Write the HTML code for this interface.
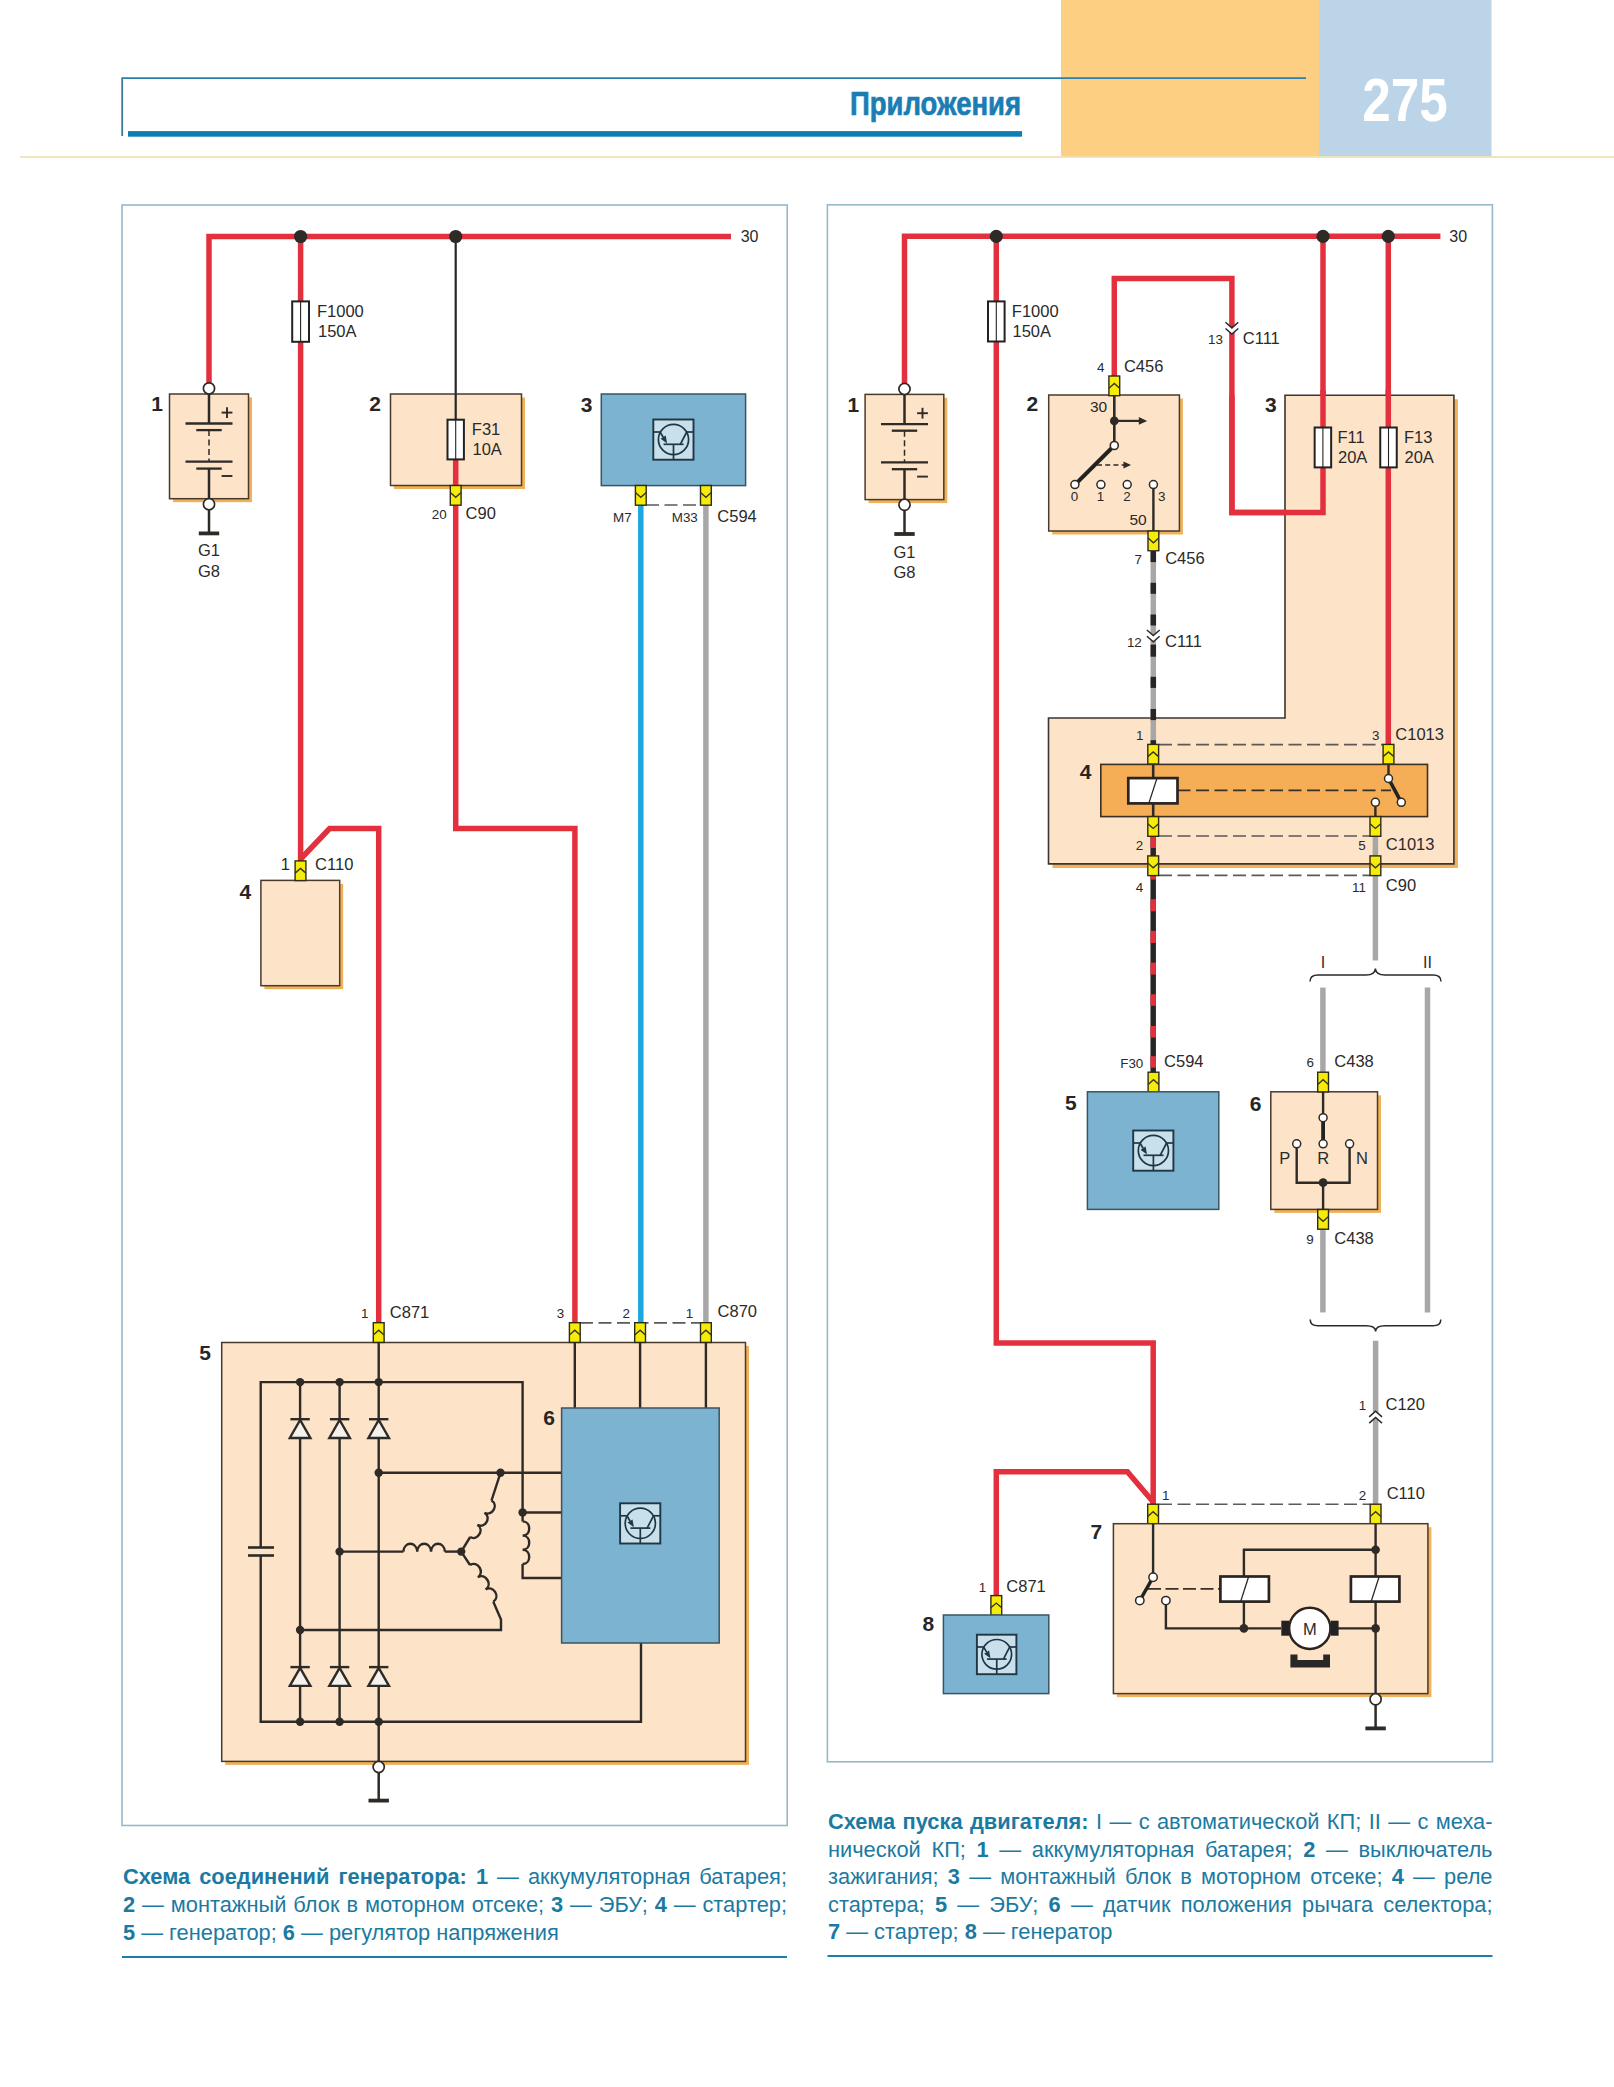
<!DOCTYPE html>
<html><head><meta charset="utf-8"><title>275</title>
<style>html,body{margin:0;padding:0;background:#fff;width:1614px;height:2087px;overflow:hidden}
text{font-family:"Liberation Sans",sans-serif}</style></head>
<body>
<svg width="1614" height="2087" viewBox="0 0 1614 2087" font-family="Liberation Sans, sans-serif" style="display:block">
<rect x="0" y="0" width="1614" height="2087" fill="#ffffff" stroke="none" stroke-width="0" />
<rect x="1061" y="0" width="258" height="156.5" fill="#fccf82" stroke="none" stroke-width="0" />
<rect x="1319" y="0" width="172.5" height="156.5" fill="#bcd4e8" stroke="none" stroke-width="0" />
<line x1="20" y1="157" x2="1614" y2="157" stroke="#efdca2" stroke-width="1.6" />
<line x1="122" y1="78.2" x2="1306" y2="78.2" stroke="#2c7fa5" stroke-width="1.7" />
<line x1="122.2" y1="77.5" x2="122.2" y2="136" stroke="#3f7896" stroke-width="1.8" />
<rect x="128" y="131.1" width="894" height="5.6" fill="#0f7fb1" stroke="none" stroke-width="0" />
<text x="850" y="115.3" font-size="34" font-weight="bold" fill="#1a7db3" stroke="#1a7db3" stroke-width="0.7" textLength="171" lengthAdjust="spacingAndGlyphs">Приложения</text>
<text x="1362.3" y="120.6" font-size="60.5" font-weight="bold" fill="#ffffff" textLength="85.5" lengthAdjust="spacingAndGlyphs">275</text>
<rect x="122" y="205" width="665.2" height="1620.5" fill="none" stroke="#95b8ca" stroke-width="1.6" />
<path d="M209,383 V236.5 H731" stroke="#e3303f" stroke-width="5.5" fill="none" stroke-linejoin="miter"/>
<line x1="300.6" y1="236.5" x2="300.6" y2="862" stroke="#e3303f" stroke-width="5.5" />
<path d="M300.6,859 L329.6,828.5 H378.7 V1324" stroke="#e3303f" stroke-width="5.5" fill="none" stroke-linejoin="miter"/>
<path d="M455.7,459 V828.5 H574.9 V1324" stroke="#e3303f" stroke-width="5.5" fill="none" stroke-linejoin="miter"/>
<line x1="640.8" y1="504" x2="640.8" y2="1324" stroke="#1ea7df" stroke-width="5.5" />
<line x1="705.9" y1="504" x2="705.9" y2="1324" stroke="#a7a7a7" stroke-width="5.5" />
<line x1="455.7" y1="236.5" x2="455.7" y2="420" stroke="#262626" stroke-width="2.2" />
<text x="740.7" y="242.4" font-size="16" text-anchor="start" font-weight="normal" fill="#2a2a2a" >30</text>
<circle cx="300.6" cy="236.5" r="6.6" fill="#2e2a26" stroke="none" stroke-width="0"/>
<circle cx="455.7" cy="236.5" r="6.6" fill="#2e2a26" stroke="none" stroke-width="0"/>
<rect x="292.2" y="301.4" width="16.8" height="40.4" fill="#ffffff" stroke="#222222" stroke-width="2" />
<line x1="300.6" y1="301.4" x2="300.6" y2="341.8" stroke="#222222" stroke-width="1.1" />
<text x="317" y="317.3" font-size="16.5" text-anchor="start" font-weight="normal" fill="#2a2a2a" >F1000</text>
<text x="318" y="337" font-size="16.5" text-anchor="start" font-weight="normal" fill="#2a2a2a" >150A</text>
<rect x="173" y="397.5" width="79" height="104.7" fill="#efb25a" stroke="none" stroke-width="0" />
<rect x="169.5" y="394" width="79" height="104.7" fill="#fde3c8" stroke="#4a3a2c" stroke-width="1.5" />
<line x1="209" y1="388.4" x2="209" y2="423.5" stroke="#2e2a26" stroke-width="2.5" />
<line x1="185.5" y1="423.5" x2="232.5" y2="423.5" stroke="#2e2a26" stroke-width="2.3" />
<line x1="196.3" y1="430.1" x2="221.7" y2="430.1" stroke="#2e2a26" stroke-width="2.3" />
<line x1="209" y1="430.1" x2="209" y2="461.7" stroke="#2e2a26" stroke-width="1.5" stroke-dasharray="6,3.5"/>
<line x1="185.5" y1="461.7" x2="232.5" y2="461.7" stroke="#2e2a26" stroke-width="2.3" />
<line x1="196.3" y1="468.6" x2="221.7" y2="468.6" stroke="#2e2a26" stroke-width="2.3" />
<line x1="209" y1="468.6" x2="209" y2="504.2" stroke="#2e2a26" stroke-width="2.5" />
<line x1="221.6" y1="412.6" x2="232.4" y2="412.6" stroke="#2e2a26" stroke-width="1.9" />
<line x1="227" y1="407.2" x2="227" y2="418" stroke="#2e2a26" stroke-width="1.9" />
<line x1="221.6" y1="476" x2="232.4" y2="476" stroke="#2e2a26" stroke-width="1.9" />
<circle cx="209" cy="388.4" r="5.6" fill="#ffffff" stroke="#2e2a26" stroke-width="1.7"/>
<circle cx="209" cy="504.2" r="5.6" fill="#ffffff" stroke="#2e2a26" stroke-width="1.7"/>
<line x1="209" y1="509.8" x2="209" y2="533.4" stroke="#2e2a26" stroke-width="2.5" />
<rect x="198.8" y="531.5" width="20.4" height="3.8" fill="#2e2a26" stroke="none" stroke-width="0" />
<text x="209" y="556.3" font-size="16.5" text-anchor="middle" font-weight="normal" fill="#2a2a2a" >G1</text>
<text x="209" y="576.8" font-size="16.5" text-anchor="middle" font-weight="normal" fill="#2a2a2a" >G8</text>
<text x="157.05" y="411.3" font-size="21" text-anchor="middle" font-weight="bold" fill="#262626" >1</text>
<rect x="394" y="397.5" width="131" height="91.5" fill="#efb25a" stroke="none" stroke-width="0" />
<rect x="390.5" y="394" width="131" height="91.5" fill="#fde3c8" stroke="#4a3a2c" stroke-width="1.5" />
<line x1="455.7" y1="394" x2="455.7" y2="420" stroke="#262626" stroke-width="2.2" />
<line x1="455.7" y1="459" x2="455.7" y2="486" stroke="#e3303f" stroke-width="5.5" />
<rect x="447.5" y="419.7" width="16.4" height="39.7" fill="#ffffff" stroke="#222222" stroke-width="2" />
<line x1="455.7" y1="419.7" x2="455.7" y2="459.4" stroke="#222222" stroke-width="1.1" />
<text x="471.8" y="435.4" font-size="16.5" text-anchor="start" font-weight="normal" fill="#2a2a2a" >F31</text>
<text x="472.5" y="455.2" font-size="16.5" text-anchor="start" font-weight="normal" fill="#2a2a2a" >10A</text>
<text x="375.15" y="411.3" font-size="21" text-anchor="middle" font-weight="bold" fill="#262626" >2</text>
<rect x="450.3" y="485.5" width="10.8" height="19.7" fill="#f5ec0a" stroke="#2e2b14" stroke-width="1.4" />
<path d="M450.3,492.59 L455.7,497.32 L461.1,492.59" stroke="#3a3520" stroke-width="1.4" fill="none" />
<text x="446.6" y="519.2" font-size="13.4" text-anchor="end" font-weight="normal" fill="#2a2a2a" >20</text>
<text x="465.6" y="519.2" font-size="16.5" text-anchor="start" font-weight="normal" fill="#2a2a2a" >C90</text>
<rect x="601.3" y="394" width="144.3" height="91.6" fill="#7bb3d0" stroke="#3a5462" stroke-width="1.5" />
<rect x="653.3" y="419.5" width="40.2" height="40.2" fill="#c8e0ec" stroke="#1f3643" stroke-width="1.9" />
<circle cx="673.5" cy="439.5" r="15.1" fill="none" stroke="#1f3643" stroke-width="1.7"/>
<line x1="653.3" y1="432" x2="660.1" y2="432" stroke="#1f3643" stroke-width="1.7" />
<line x1="686.7" y1="432" x2="693.5" y2="432" stroke="#1f3643" stroke-width="1.7" />
<line x1="663.6" y1="444.3" x2="683.6" y2="444.3" stroke="#1f3643" stroke-width="1.7" />
<line x1="673.5" y1="444.3" x2="673.5" y2="459.7" stroke="#1f3643" stroke-width="1.7" />
<line x1="660.1" y1="432" x2="663.2" y2="437.2" stroke="#1f3643" stroke-width="1.7" />
<path d="M667.1,443.4 L660.7,438.8 L665.7,435.6 Z" fill="#1f3643"/>
<line x1="686.7" y1="432" x2="680.3" y2="444.3" stroke="#1f3643" stroke-width="1.7" />
<text x="586.5" y="411.5" font-size="21" text-anchor="middle" font-weight="bold" fill="#262626" >3</text>
<line x1="646" y1="505" x2="700" y2="505" stroke="#5a5a5a" stroke-width="1.6" stroke-dasharray="13,5.5"/>
<rect x="635.4" y="485.5" width="10.8" height="19.7" fill="#f5ec0a" stroke="#2e2b14" stroke-width="1.4" />
<path d="M635.4,492.59 L640.8,497.32 L646.2,492.59" stroke="#3a3520" stroke-width="1.4" fill="none" />
<rect x="700.5" y="485.5" width="10.8" height="19.7" fill="#f5ec0a" stroke="#2e2b14" stroke-width="1.4" />
<path d="M700.5,492.59 L705.9,497.32 L711.3,492.59" stroke="#3a3520" stroke-width="1.4" fill="none" />
<text x="631.6" y="522.2" font-size="13.4" text-anchor="end" font-weight="normal" fill="#2a2a2a" >M7</text>
<text x="697.8" y="522.2" font-size="13.4" text-anchor="end" font-weight="normal" fill="#2a2a2a" >M33</text>
<text x="717.3" y="521.6" font-size="16.5" text-anchor="start" font-weight="normal" fill="#2a2a2a" >C594</text>
<rect x="264.4" y="883.9" width="78.8" height="105.3" fill="#efb25a" stroke="none" stroke-width="0" />
<rect x="260.9" y="880.4" width="78.8" height="105.3" fill="#fde3c8" stroke="#4a3a2c" stroke-width="1.5" />
<text x="245.4" y="899" font-size="21" text-anchor="middle" font-weight="bold" fill="#262626" >4</text>
<rect x="295.1" y="860.9" width="10.8" height="19.7" fill="#f5ec0a" stroke="#2e2b14" stroke-width="1.4" />
<path d="M295.1,873.11 L300.5,868.39 L305.9,873.11" stroke="#3a3520" stroke-width="1.4" fill="none" />
<text x="285.3" y="869.8" font-size="16.5" text-anchor="middle" font-weight="normal" fill="#2a2a2a" >1</text>
<text x="315.1" y="869.8" font-size="16.5" text-anchor="start" font-weight="normal" fill="#2a2a2a" >C110</text>
<rect x="225.2" y="1346" width="523.8" height="418.9" fill="#efb25a" stroke="none" stroke-width="0" />
<rect x="221.7" y="1342.5" width="523.8" height="418.9" fill="#fde3c8" stroke="#4a3a2c" stroke-width="1.5" />
<text x="205.05" y="1360.3" font-size="21" text-anchor="middle" font-weight="bold" fill="#262626" >5</text>
<line x1="580" y1="1322.9" x2="700" y2="1322.9" stroke="#5a5a5a" stroke-width="1.6" stroke-dasharray="13,5.5"/>
<rect x="373.3" y="1322.7" width="10.8" height="19.7" fill="#f5ec0a" stroke="#2e2b14" stroke-width="1.4" />
<path d="M373.3,1334.91 L378.7,1330.19 L384.1,1334.91" stroke="#3a3520" stroke-width="1.4" fill="none" />
<rect x="569.4" y="1322.7" width="10.8" height="19.7" fill="#f5ec0a" stroke="#2e2b14" stroke-width="1.4" />
<path d="M569.4,1334.91 L574.8,1330.19 L580.2,1334.91" stroke="#3a3520" stroke-width="1.4" fill="none" />
<rect x="634.7" y="1322.7" width="10.8" height="19.7" fill="#f5ec0a" stroke="#2e2b14" stroke-width="1.4" />
<path d="M634.7,1334.91 L640.1,1330.19 L645.5,1334.91" stroke="#3a3520" stroke-width="1.4" fill="none" />
<rect x="700.5" y="1322.7" width="10.8" height="19.7" fill="#f5ec0a" stroke="#2e2b14" stroke-width="1.4" />
<path d="M700.5,1334.91 L705.9,1330.19 L711.3,1334.91" stroke="#3a3520" stroke-width="1.4" fill="none" />
<text x="364.8" y="1317.8" font-size="13.4" text-anchor="middle" font-weight="normal" fill="#2a2a2a" >1</text>
<text x="389.8" y="1317.8" font-size="16.5" text-anchor="start" font-weight="normal" fill="#2a2a2a" >C871</text>
<text x="560.5" y="1317.6" font-size="13.4" text-anchor="middle" font-weight="normal" fill="#2a2a2a" >3</text>
<text x="626.2" y="1317.6" font-size="13.4" text-anchor="middle" font-weight="normal" fill="#2a2a2a" >2</text>
<text x="689.6" y="1317.6" font-size="13.4" text-anchor="middle" font-weight="normal" fill="#2a2a2a" >1</text>
<text x="717.6" y="1317.2" font-size="16.5" text-anchor="start" font-weight="normal" fill="#2a2a2a" >C870</text>
<line x1="574.8" y1="1342.5" x2="574.8" y2="1408" stroke="#2e2a26" stroke-width="2.4" />
<line x1="640.1" y1="1342.5" x2="640.1" y2="1408" stroke="#2e2a26" stroke-width="2.4" />
<line x1="705.9" y1="1342.5" x2="705.9" y2="1408" stroke="#2e2a26" stroke-width="2.4" />
<path d="M260.7,1547.5 V1382.1 H522.6 V1512.5" stroke="#2e2a26" stroke-width="2.4" fill="none" stroke-linejoin="miter"/>
<path d="M260.7,1555.5 V1721.8 H641 V1643" stroke="#2e2a26" stroke-width="2.4" fill="none" stroke-linejoin="miter"/>
<line x1="248" y1="1547.5" x2="274" y2="1547.5" stroke="#2e2a26" stroke-width="2.6" />
<line x1="248" y1="1555.5" x2="274" y2="1555.5" stroke="#2e2a26" stroke-width="2.6" />
<line x1="300.1" y1="1382.1" x2="300.1" y2="1721.8" stroke="#2e2a26" stroke-width="2.4" />
<line x1="290.4" y1="1419.2" x2="309.8" y2="1419.2" stroke="#2e2a26" stroke-width="2.4" />
<path d="M300.1,1420 L289.8,1438 L310.4,1438 Z" fill="#f4f1ee" stroke="#2e2a26" stroke-width="2.4" stroke-linejoin="miter"/>
<line x1="290.4" y1="1667.1" x2="309.8" y2="1667.1" stroke="#2e2a26" stroke-width="2.4" />
<path d="M300.1,1667.9 L289.8,1685.9 L310.4,1685.9 Z" fill="#f4f1ee" stroke="#2e2a26" stroke-width="2.4" stroke-linejoin="miter"/>
<line x1="339.6" y1="1382.1" x2="339.6" y2="1721.8" stroke="#2e2a26" stroke-width="2.4" />
<line x1="329.9" y1="1419.2" x2="349.3" y2="1419.2" stroke="#2e2a26" stroke-width="2.4" />
<path d="M339.6,1420 L329.3,1438 L349.9,1438 Z" fill="#f4f1ee" stroke="#2e2a26" stroke-width="2.4" stroke-linejoin="miter"/>
<line x1="329.9" y1="1667.1" x2="349.3" y2="1667.1" stroke="#2e2a26" stroke-width="2.4" />
<path d="M339.6,1667.9 L329.3,1685.9 L349.9,1685.9 Z" fill="#f4f1ee" stroke="#2e2a26" stroke-width="2.4" stroke-linejoin="miter"/>
<line x1="378.7" y1="1382.1" x2="378.7" y2="1721.8" stroke="#2e2a26" stroke-width="2.4" />
<line x1="369" y1="1419.2" x2="388.4" y2="1419.2" stroke="#2e2a26" stroke-width="2.4" />
<path d="M378.7,1420 L368.4,1438 L389,1438 Z" fill="#f4f1ee" stroke="#2e2a26" stroke-width="2.4" stroke-linejoin="miter"/>
<line x1="369" y1="1667.1" x2="388.4" y2="1667.1" stroke="#2e2a26" stroke-width="2.4" />
<path d="M378.7,1667.9 L368.4,1685.9 L389,1685.9 Z" fill="#f4f1ee" stroke="#2e2a26" stroke-width="2.4" stroke-linejoin="miter"/>
<line x1="378.7" y1="1342.5" x2="378.7" y2="1382.1" stroke="#2e2a26" stroke-width="2.4" />
<line x1="378.7" y1="1721.8" x2="378.7" y2="1761.5" stroke="#2e2a26" stroke-width="2.4" />
<circle cx="378.7" cy="1767" r="5.6" fill="#ffffff" stroke="#2e2a26" stroke-width="1.7"/>
<line x1="378.7" y1="1772.5" x2="378.7" y2="1800.6" stroke="#2e2a26" stroke-width="2.5" />
<rect x="368.5" y="1798.7" width="20.4" height="3.8" fill="#2e2a26" stroke="none" stroke-width="0" />
<line x1="378.7" y1="1472.8" x2="561.6" y2="1472.8" stroke="#2e2a26" stroke-width="2.4" />
<line x1="339.6" y1="1551.6" x2="403.4" y2="1551.6" stroke="#2e2a26" stroke-width="2.4" />
<path d="M403.4,1551.6 C404.09,1541.22 416.54,1541.22 417.23,1551.6 C417.92,1541.22 430.37,1541.22 431.07,1551.6 C431.76,1541.22 444.21,1541.22 444.9,1551.6" stroke="#2e2a26" stroke-width="2.4" fill="none" />
<line x1="444.9" y1="1551.6" x2="461.2" y2="1551.6" stroke="#2e2a26" stroke-width="2.4" />
<line x1="500.5" y1="1472.8" x2="491.5" y2="1500.5" stroke="#2e2a26" stroke-width="2.4" />
<path d="M491.5,1500.5 C499.04,1504.9 491.94,1517.07 484.4,1512.67 C491.94,1517.07 484.84,1529.24 477.3,1524.83 C484.84,1529.24 477.74,1541.4 470.2,1537" stroke="#2e2a26" stroke-width="2.4" fill="none" />
<line x1="470.2" y1="1537" x2="461.2" y2="1551.6" stroke="#2e2a26" stroke-width="2.4" />
<line x1="461.2" y1="1551.6" x2="470" y2="1565" stroke="#2e2a26" stroke-width="2.4" />
<path d="M470,1565 C477.58,1560.18 485.35,1572.42 477.77,1577.23 C485.35,1572.42 493.12,1584.65 485.53,1589.47 C493.12,1584.65 500.88,1596.88 493.3,1601.7" stroke="#2e2a26" stroke-width="2.4" fill="none" />
<path d="M493.3,1601.7 L501,1619.6 V1630 H300.1" stroke="#2e2a26" stroke-width="2.4" fill="none" stroke-linejoin="miter"/>
<line x1="522.6" y1="1512.5" x2="561.6" y2="1512.5" stroke="#2e2a26" stroke-width="2.4" />
<line x1="522.6" y1="1512.5" x2="522.6" y2="1521.4" stroke="#2e2a26" stroke-width="2.4" />
<path d="M522.6,1521.4 C531.4,1521.4 531.4,1535.6 522.6,1535.6 C531.4,1535.6 531.4,1549.8 522.6,1549.8 C531.4,1549.8 531.4,1564 522.6,1564" stroke="#2e2a26" stroke-width="2.4" fill="none" />
<path d="M522.6,1564 V1578 H561.6" stroke="#2e2a26" stroke-width="2.4" fill="none" stroke-linejoin="miter"/>
<circle cx="300.1" cy="1382.1" r="4.2" fill="#2e2a26" stroke="none" stroke-width="0"/>
<circle cx="339.6" cy="1382.1" r="4.2" fill="#2e2a26" stroke="none" stroke-width="0"/>
<circle cx="378.7" cy="1382.1" r="4.2" fill="#2e2a26" stroke="none" stroke-width="0"/>
<circle cx="378.7" cy="1472.8" r="4.2" fill="#2e2a26" stroke="none" stroke-width="0"/>
<circle cx="339.6" cy="1551.6" r="4.2" fill="#2e2a26" stroke="none" stroke-width="0"/>
<circle cx="300.1" cy="1630" r="4.2" fill="#2e2a26" stroke="none" stroke-width="0"/>
<circle cx="300.1" cy="1721.8" r="4.2" fill="#2e2a26" stroke="none" stroke-width="0"/>
<circle cx="339.6" cy="1721.8" r="4.2" fill="#2e2a26" stroke="none" stroke-width="0"/>
<circle cx="378.7" cy="1721.8" r="4.2" fill="#2e2a26" stroke="none" stroke-width="0"/>
<circle cx="500.5" cy="1472.8" r="4.2" fill="#2e2a26" stroke="none" stroke-width="0"/>
<circle cx="461.2" cy="1551.6" r="4.2" fill="#2e2a26" stroke="none" stroke-width="0"/>
<circle cx="522.6" cy="1512.5" r="4.2" fill="#2e2a26" stroke="none" stroke-width="0"/>
<rect x="561.6" y="1408" width="157.6" height="235" fill="#7bb3d0" stroke="#3a5462" stroke-width="1.5" />
<rect x="620.1" y="1503.3" width="40.2" height="40.2" fill="#c8e0ec" stroke="#1f3643" stroke-width="1.9" />
<circle cx="640.3" cy="1523.3" r="15.1" fill="none" stroke="#1f3643" stroke-width="1.7"/>
<line x1="620.1" y1="1515.8" x2="626.9" y2="1515.8" stroke="#1f3643" stroke-width="1.7" />
<line x1="653.5" y1="1515.8" x2="660.3" y2="1515.8" stroke="#1f3643" stroke-width="1.7" />
<line x1="630.4" y1="1528.1" x2="650.4" y2="1528.1" stroke="#1f3643" stroke-width="1.7" />
<line x1="640.3" y1="1528.1" x2="640.3" y2="1543.5" stroke="#1f3643" stroke-width="1.7" />
<line x1="626.9" y1="1515.8" x2="630" y2="1521" stroke="#1f3643" stroke-width="1.7" />
<path d="M633.9,1527.2 L627.5,1522.6 L632.5,1519.4 Z" fill="#1f3643"/>
<line x1="653.5" y1="1515.8" x2="647.1" y2="1528.1" stroke="#1f3643" stroke-width="1.7" />
<text x="549" y="1425.4" font-size="21" text-anchor="middle" font-weight="bold" fill="#262626" >6</text>
<rect x="827.4" y="204.8" width="665" height="1557" fill="none" stroke="#95b8ca" stroke-width="1.6" />
<path d="M904.5,383 V236.3 H1440.4" stroke="#e3303f" stroke-width="5.5" fill="none" stroke-linejoin="miter"/>
<path d="M996.3,236.3 V1343 H1153.2 V1506" stroke="#e3303f" stroke-width="5.5" fill="none" stroke-linejoin="miter"/>
<path d="M996.3,1597 V1471.8 H1127.4 L1153.2,1502" stroke="#e3303f" stroke-width="5.5" fill="none" stroke-linejoin="miter"/>
<path d="M1114.3,378 V278.4 H1231.9 V512.6 H1323 V236.3" stroke="#e3303f" stroke-width="5.5" fill="none" stroke-linejoin="miter"/>
<line x1="1388.3" y1="236.3" x2="1388.3" y2="746" stroke="#e3303f" stroke-width="5.5" />
<text x="1449.3" y="242.2" font-size="16" text-anchor="start" font-weight="normal" fill="#2a2a2a" >30</text>
<circle cx="996.3" cy="236.3" r="6.6" fill="#2e2a26" stroke="none" stroke-width="0"/>
<circle cx="1323" cy="236.3" r="6.6" fill="#2e2a26" stroke="none" stroke-width="0"/>
<circle cx="1388.3" cy="236.3" r="6.6" fill="#2e2a26" stroke="none" stroke-width="0"/>
<rect x="988" y="301.4" width="16.6" height="40.1" fill="#ffffff" stroke="#222222" stroke-width="2" />
<line x1="996.3" y1="301.4" x2="996.3" y2="341.5" stroke="#222222" stroke-width="1.1" />
<text x="1011.8" y="317.2" font-size="16.5" text-anchor="start" font-weight="normal" fill="#2a2a2a" >F1000</text>
<text x="1012.5" y="336.8" font-size="16.5" text-anchor="start" font-weight="normal" fill="#2a2a2a" >150A</text>
<rect x="868.6" y="397.9" width="78.7" height="105.2" fill="#efb25a" stroke="none" stroke-width="0" />
<rect x="865.1" y="394.4" width="78.7" height="105.2" fill="#fde3c8" stroke="#4a3a2c" stroke-width="1.5" />
<line x1="904.5" y1="389" x2="904.5" y2="424.1" stroke="#2e2a26" stroke-width="2.5" />
<line x1="881" y1="424.1" x2="928" y2="424.1" stroke="#2e2a26" stroke-width="2.3" />
<line x1="891.8" y1="430.7" x2="917.2" y2="430.7" stroke="#2e2a26" stroke-width="2.3" />
<line x1="904.5" y1="430.7" x2="904.5" y2="462.3" stroke="#2e2a26" stroke-width="1.5" stroke-dasharray="6,3.5"/>
<line x1="881" y1="462.3" x2="928" y2="462.3" stroke="#2e2a26" stroke-width="2.3" />
<line x1="891.8" y1="469.2" x2="917.2" y2="469.2" stroke="#2e2a26" stroke-width="2.3" />
<line x1="904.5" y1="469.2" x2="904.5" y2="504.8" stroke="#2e2a26" stroke-width="2.5" />
<line x1="917.1" y1="413.2" x2="927.9" y2="413.2" stroke="#2e2a26" stroke-width="1.9" />
<line x1="922.5" y1="407.8" x2="922.5" y2="418.6" stroke="#2e2a26" stroke-width="1.9" />
<line x1="917.1" y1="476.6" x2="927.9" y2="476.6" stroke="#2e2a26" stroke-width="1.9" />
<circle cx="904.5" cy="389" r="5.6" fill="#ffffff" stroke="#2e2a26" stroke-width="1.7"/>
<circle cx="904.5" cy="504.8" r="5.6" fill="#ffffff" stroke="#2e2a26" stroke-width="1.7"/>
<line x1="904.5" y1="510.4" x2="904.5" y2="534" stroke="#2e2a26" stroke-width="2.5" />
<rect x="894.3" y="532.1" width="20.4" height="3.8" fill="#2e2a26" stroke="none" stroke-width="0" />
<text x="904.5" y="557.5" font-size="16.5" text-anchor="middle" font-weight="normal" fill="#2a2a2a" >G1</text>
<text x="904.5" y="577.8" font-size="16.5" text-anchor="middle" font-weight="normal" fill="#2a2a2a" >G8</text>
<text x="853.25" y="411.8" font-size="21" text-anchor="middle" font-weight="bold" fill="#262626" >1</text>
<path d="M1225.5,322.3 L1231.9,327.9 L1238.3,322.3 L1238.3,328.5 L1231.9,334.1 L1225.5,328.5 Z" fill="#ffffff"/>
<path d="M1225.5,322.3 L1231.9,327.9 L1238.3,322.3" stroke="#2a2a2a" stroke-width="1.5" fill="none" />
<path d="M1225.5,328.5 L1231.9,334.1 L1238.3,328.5" stroke="#2a2a2a" stroke-width="1.5" fill="none" />
<text x="1222.9" y="343.8" font-size="13.4" text-anchor="end" font-weight="normal" fill="#2a2a2a" >13</text>
<text x="1242.8" y="343.8" font-size="16.5" text-anchor="start" font-weight="normal" fill="#2a2a2a" >C111</text>
<path d="M1289,399.2 H1457.9 V867.9 H1052.5 V722 H1289 Z" fill="#efb25a"/>
<path d="M1285,395.2 H1453.9 V863.9 H1048.5 V718 H1285 Z" fill="#fde3c8" stroke="#3a3530" stroke-width="1.6"/>
<text x="1270.75" y="412.3" font-size="21" text-anchor="middle" font-weight="bold" fill="#262626" >3</text>
<path d="M1231.9,395.2 V512.6 H1323 V390" stroke="#e3303f" stroke-width="5.5" fill="none" stroke-linejoin="miter"/>
<line x1="1388.3" y1="390" x2="1388.3" y2="746" stroke="#e3303f" stroke-width="5.5" />
<rect x="1314.65" y="427.5" width="16.5" height="39.9" fill="#ffffff" stroke="#222222" stroke-width="2" />
<line x1="1322.9" y1="427.5" x2="1322.9" y2="467.4" stroke="#222222" stroke-width="1.1" />
<rect x="1380.25" y="427.5" width="16.5" height="39.9" fill="#ffffff" stroke="#222222" stroke-width="2" />
<line x1="1388.5" y1="427.5" x2="1388.5" y2="467.4" stroke="#222222" stroke-width="1.1" />
<text x="1337.5" y="442.8" font-size="16.5" text-anchor="start" font-weight="normal" fill="#2a2a2a" >F11</text>
<text x="1338" y="463.2" font-size="16.5" text-anchor="start" font-weight="normal" fill="#2a2a2a" >20A</text>
<text x="1404" y="442.8" font-size="16.5" text-anchor="start" font-weight="normal" fill="#2a2a2a" >F13</text>
<text x="1404.5" y="463.2" font-size="16.5" text-anchor="start" font-weight="normal" fill="#2a2a2a" >20A</text>
<rect x="1052.2" y="398.5" width="130.7" height="136" fill="#efb25a" stroke="none" stroke-width="0" />
<rect x="1048.7" y="395" width="130.7" height="136" fill="#fde3c8" stroke="#4a3a2c" stroke-width="1.5" />
<text x="1032.4" y="411.4" font-size="21" text-anchor="middle" font-weight="bold" fill="#262626" >2</text>
<rect x="1108.9" y="376" width="10.8" height="19.7" fill="#f5ec0a" stroke="#2e2b14" stroke-width="1.4" />
<path d="M1108.9,388.21 L1114.3,383.49 L1119.7,388.21" stroke="#3a3520" stroke-width="1.4" fill="none" />
<text x="1100.8" y="371.9" font-size="13.4" text-anchor="middle" font-weight="normal" fill="#2a2a2a" >4</text>
<text x="1123.9" y="371.9" font-size="16.5" text-anchor="start" font-weight="normal" fill="#2a2a2a" >C456</text>
<text x="1090" y="411.6" font-size="15.5" text-anchor="start" font-weight="normal" fill="#2a2a2a" >30</text>
<line x1="1114.3" y1="395" x2="1114.3" y2="441.5" stroke="#2e2a26" stroke-width="2.6" />
<circle cx="1114.3" cy="420.9" r="4.3" fill="#2e2a26" stroke="none" stroke-width="0"/>
<line x1="1114.3" y1="420.9" x2="1140" y2="420.9" stroke="#2e2a26" stroke-width="2.2" />
<path d="M1147.2,420.9 L1138.8,417 L1138.8,424.8 Z" fill="#2e2a26"/>
<line x1="1114.3" y1="445.5" x2="1075" y2="484.6" stroke="#222" stroke-width="4" />
<line x1="1097" y1="465" x2="1125" y2="465" stroke="#2e2a26" stroke-width="1.5" stroke-dasharray="5,3.2"/>
<path d="M1131,465 L1123.5,461.6 L1123.5,468.4 Z" fill="#2e2a26"/>
<circle cx="1114.3" cy="445.5" r="4" fill="#ffffff" stroke="#2e2a26" stroke-width="1.6"/>
<line x1="1153.4" y1="484.6" x2="1153.4" y2="532" stroke="#2e2a26" stroke-width="2.4" />
<circle cx="1074.9" cy="484.6" r="4" fill="#ffffff" stroke="#2e2a26" stroke-width="1.5"/>
<circle cx="1100.9" cy="484.6" r="4" fill="#ffffff" stroke="#2e2a26" stroke-width="1.5"/>
<circle cx="1127.2" cy="484.6" r="4" fill="#ffffff" stroke="#2e2a26" stroke-width="1.5"/>
<circle cx="1153.4" cy="484.6" r="4" fill="#ffffff" stroke="#2e2a26" stroke-width="1.5"/>
<text x="1074.5" y="501.4" font-size="13.4" text-anchor="middle" font-weight="normal" fill="#2a2a2a" >0</text>
<text x="1100.5" y="501.4" font-size="13.4" text-anchor="middle" font-weight="normal" fill="#2a2a2a" >1</text>
<text x="1127" y="501.4" font-size="13.4" text-anchor="middle" font-weight="normal" fill="#2a2a2a" >2</text>
<text x="1161.8" y="501.4" font-size="13.4" text-anchor="middle" font-weight="normal" fill="#2a2a2a" >3</text>
<text x="1129.5" y="525.2" font-size="15.5" text-anchor="start" font-weight="normal" fill="#2a2a2a" >50</text>
<rect x="1148" y="531" width="10.8" height="19.7" fill="#f5ec0a" stroke="#2e2b14" stroke-width="1.4" />
<path d="M1148,538.09 L1153.4,542.82 L1158.8,538.09" stroke="#3a3520" stroke-width="1.4" fill="none" />
<text x="1138.3" y="564.4" font-size="13.4" text-anchor="middle" font-weight="normal" fill="#2a2a2a" >7</text>
<text x="1165.2" y="564.4" font-size="16.5" text-anchor="start" font-weight="normal" fill="#2a2a2a" >C456</text>
<line x1="1153.3" y1="550.6" x2="1153.3" y2="746" stroke="#a7a7a7" stroke-width="5.5" />
<line x1="1153.3" y1="550.6" x2="1153.3" y2="562.1" stroke="#262626" stroke-width="5.5" />
<line x1="1153.3" y1="582.8" x2="1153.3" y2="593.8" stroke="#262626" stroke-width="5.5" />
<line x1="1153.3" y1="614.5" x2="1153.3" y2="625.5" stroke="#262626" stroke-width="5.5" />
<line x1="1153.3" y1="644.6" x2="1153.3" y2="656.7" stroke="#262626" stroke-width="5.5" />
<line x1="1153.3" y1="676.8" x2="1153.3" y2="687.9" stroke="#262626" stroke-width="5.5" />
<line x1="1153.3" y1="709" x2="1153.3" y2="720.1" stroke="#262626" stroke-width="5.5" />
<line x1="1153.3" y1="740.2" x2="1153.3" y2="746" stroke="#262626" stroke-width="5.5" />
<path d="M1146.9,630 L1153.3,635.6 L1159.7,630 L1159.7,636.2 L1153.3,641.8 L1146.9,636.2 Z" fill="#ffffff"/>
<path d="M1146.9,630 L1153.3,635.6 L1159.7,630" stroke="#2a2a2a" stroke-width="1.5" fill="none" />
<path d="M1146.9,636.2 L1153.3,641.8 L1159.7,636.2" stroke="#2a2a2a" stroke-width="1.5" fill="none" />
<text x="1141.8" y="647" font-size="13.4" text-anchor="end" font-weight="normal" fill="#2a2a2a" >12</text>
<text x="1165" y="646.5" font-size="16.5" text-anchor="start" font-weight="normal" fill="#2a2a2a" >C111</text>
<line x1="1159" y1="744.6" x2="1383" y2="744.6" stroke="#5a5a5a" stroke-width="1.6" stroke-dasharray="13,5.5"/>
<rect x="1147.8" y="744.4" width="10.8" height="19.7" fill="#f5ec0a" stroke="#2e2b14" stroke-width="1.4" />
<path d="M1147.8,756.61 L1153.2,751.89 L1158.6,756.61" stroke="#3a3520" stroke-width="1.4" fill="none" />
<rect x="1383.1" y="744.4" width="10.8" height="19.7" fill="#f5ec0a" stroke="#2e2b14" stroke-width="1.4" />
<path d="M1383.1,756.61 L1388.5,751.89 L1393.9,756.61" stroke="#3a3520" stroke-width="1.4" fill="none" />
<text x="1139.7" y="740.3" font-size="13.4" text-anchor="middle" font-weight="normal" fill="#2a2a2a" >1</text>
<text x="1375.7" y="740.3" font-size="13.4" text-anchor="middle" font-weight="normal" fill="#2a2a2a" >3</text>
<text x="1395.3" y="740.2" font-size="16.5" text-anchor="start" font-weight="normal" fill="#2a2a2a" >C1013</text>
<rect x="1100.8" y="764.4" width="326.7" height="52.2" fill="#f5ad56" stroke="#3a3025" stroke-width="1.6" />
<text x="1085.6" y="779.4" font-size="21" text-anchor="middle" font-weight="bold" fill="#262626" >4</text>
<line x1="1153.2" y1="764.4" x2="1153.2" y2="816.6" stroke="#2e2a26" stroke-width="2.6" />
<line x1="1177.5" y1="790.4" x2="1391" y2="790.4" stroke="#3a3025" stroke-width="1.6" stroke-dasharray="13,5.5"/>
<rect x="1128.3" y="778.1" width="49.2" height="25.3" fill="#ffffff" stroke="#2a2420" stroke-width="2.7" />
<line x1="1156.84" y1="778.6" x2="1148.96" y2="802.9" stroke="#2a2420" stroke-width="1.3" />
<line x1="1388.5" y1="764.4" x2="1388.5" y2="778.5" stroke="#2e2a26" stroke-width="2.4" />
<line x1="1388.5" y1="778.5" x2="1401.3" y2="802.3" stroke="#222" stroke-width="3.6" />
<circle cx="1388.5" cy="778.5" r="4" fill="#ffffff" stroke="#2e2a26" stroke-width="1.5"/>
<circle cx="1401.3" cy="802.3" r="4" fill="#ffffff" stroke="#2e2a26" stroke-width="1.5"/>
<line x1="1375.4" y1="802.3" x2="1375.4" y2="816.6" stroke="#2e2a26" stroke-width="2.4" />
<circle cx="1375.4" cy="802.3" r="4" fill="#ffffff" stroke="#2e2a26" stroke-width="1.5"/>
<line x1="1159" y1="836" x2="1370" y2="836" stroke="#5a5a5a" stroke-width="1.6" stroke-dasharray="13,5.5"/>
<line x1="1153.2" y1="835" x2="1153.2" y2="857" stroke="#262626" stroke-width="5.5" />
<line x1="1153.2" y1="835" x2="1153.2" y2="848" stroke="#e3303f" stroke-width="5.5" />
<line x1="1375.4" y1="835" x2="1375.4" y2="857" stroke="#a7a7a7" stroke-width="5.5" />
<rect x="1147.8" y="816.6" width="10.8" height="19.7" fill="#f5ec0a" stroke="#2e2b14" stroke-width="1.4" />
<path d="M1147.8,823.69 L1153.2,828.42 L1158.6,823.69" stroke="#3a3520" stroke-width="1.4" fill="none" />
<rect x="1370" y="816.6" width="10.8" height="19.7" fill="#f5ec0a" stroke="#2e2b14" stroke-width="1.4" />
<path d="M1370,823.69 L1375.4,828.42 L1380.8,823.69" stroke="#3a3520" stroke-width="1.4" fill="none" />
<text x="1139.6" y="849.5" font-size="13.4" text-anchor="middle" font-weight="normal" fill="#2a2a2a" >2</text>
<text x="1362" y="850" font-size="13.4" text-anchor="middle" font-weight="normal" fill="#2a2a2a" >5</text>
<text x="1385.8" y="850" font-size="16.5" text-anchor="start" font-weight="normal" fill="#2a2a2a" >C1013</text>
<line x1="1159" y1="875.4" x2="1370" y2="875.4" stroke="#5a5a5a" stroke-width="1.6" stroke-dasharray="13,5.5"/>
<line x1="1153.2" y1="874" x2="1153.2" y2="1073" stroke="#262626" stroke-width="5.5" />
<line x1="1153.2" y1="874" x2="1153.2" y2="879.6" stroke="#e3303f" stroke-width="5.5" />
<line x1="1153.2" y1="899.2" x2="1153.2" y2="911.3" stroke="#e3303f" stroke-width="5.5" />
<line x1="1153.2" y1="930.9" x2="1153.2" y2="943" stroke="#e3303f" stroke-width="5.5" />
<line x1="1153.2" y1="962.6" x2="1153.2" y2="974.6" stroke="#e3303f" stroke-width="5.5" />
<line x1="1153.2" y1="994.3" x2="1153.2" y2="1005.8" stroke="#e3303f" stroke-width="5.5" />
<line x1="1153.2" y1="1026" x2="1153.2" y2="1037.5" stroke="#e3303f" stroke-width="5.5" />
<line x1="1153.2" y1="1056.2" x2="1153.2" y2="1067.7" stroke="#e3303f" stroke-width="5.5" />
<line x1="1375.4" y1="874" x2="1375.4" y2="960.5" stroke="#a7a7a7" stroke-width="5.5" />
<rect x="1147.8" y="855.9" width="10.8" height="19.7" fill="#f5ec0a" stroke="#2e2b14" stroke-width="1.4" />
<path d="M1147.8,862.99 L1153.2,867.72 L1158.6,862.99" stroke="#3a3520" stroke-width="1.4" fill="none" />
<rect x="1370" y="855.9" width="10.8" height="19.7" fill="#f5ec0a" stroke="#2e2b14" stroke-width="1.4" />
<path d="M1370,862.99 L1375.4,867.72 L1380.8,862.99" stroke="#3a3520" stroke-width="1.4" fill="none" />
<text x="1139.6" y="891.8" font-size="13.4" text-anchor="middle" font-weight="normal" fill="#2a2a2a" >4</text>
<text x="1358.9" y="891.5" font-size="13.4" text-anchor="middle" font-weight="normal" fill="#2a2a2a" >11</text>
<text x="1385.8" y="891.2" font-size="16.5" text-anchor="start" font-weight="normal" fill="#2a2a2a" >C90</text>
<text x="1322.9" y="968.2" font-size="16" text-anchor="middle" font-weight="normal" fill="#2a2a2a" >I</text>
<text x="1427.5" y="968.2" font-size="16" text-anchor="middle" font-weight="normal" fill="#2a2a2a" >II</text>
<path d="M1310,981.5 Q1310,975 1318,975 H1366 Q1375,975 1375.4,968.5 Q1375.8,975 1385,975 H1433 Q1441,975 1441,981.5" stroke="#2a2a2a" stroke-width="1.5" fill="none" />
<line x1="1322.9" y1="987.6" x2="1322.9" y2="1073" stroke="#a7a7a7" stroke-width="5.5" />
<line x1="1427.5" y1="987.6" x2="1427.5" y2="1312.4" stroke="#a7a7a7" stroke-width="5.5" />
<line x1="1322.9" y1="1229" x2="1322.9" y2="1312.4" stroke="#a7a7a7" stroke-width="5.5" />
<path d="M1310.2,1319.5 Q1310.2,1325.8 1318,1325.8 H1366 Q1375.6,1325.8 1375.6,1331.5 Q1375.6,1325.8 1385,1325.8 H1433 Q1440.8,1325.8 1440.8,1319.5" stroke="#2a2a2a" stroke-width="1.5" fill="none" />
<line x1="1375.6" y1="1340.7" x2="1375.6" y2="1505" stroke="#a7a7a7" stroke-width="5.5" />
<path d="M1369.2,1416.9 L1375.6,1411.3 L1382,1416.9 L1382,1423.1 L1375.6,1417.5 L1369.2,1423.1 Z" fill="#ffffff"/>
<path d="M1369.2,1416.9 L1375.6,1411.3 L1382,1416.9" stroke="#2a2a2a" stroke-width="1.5" fill="none" />
<path d="M1369.2,1423.1 L1375.6,1417.5 L1382,1423.1" stroke="#2a2a2a" stroke-width="1.5" fill="none" />
<text x="1362.4" y="1410.2" font-size="13.4" text-anchor="middle" font-weight="normal" fill="#2a2a2a" >1</text>
<text x="1385.5" y="1410.2" font-size="16.5" text-anchor="start" font-weight="normal" fill="#2a2a2a" >C120</text>
<rect x="1148.1" y="1072.2" width="10.8" height="19.7" fill="#f5ec0a" stroke="#2e2b14" stroke-width="1.4" />
<path d="M1148.1,1084.41 L1153.5,1079.69 L1158.9,1084.41" stroke="#3a3520" stroke-width="1.4" fill="none" />
<text x="1143.3" y="1067.7" font-size="13.4" text-anchor="end" font-weight="normal" fill="#2a2a2a" >F30</text>
<text x="1164.1" y="1067.3" font-size="16.5" text-anchor="start" font-weight="normal" fill="#2a2a2a" >C594</text>
<rect x="1087.4" y="1091.8" width="131.4" height="117.6" fill="#7bb3d0" stroke="#3a5462" stroke-width="1.5" />
<rect x="1133.2" y="1130.5" width="40.2" height="40.2" fill="#c8e0ec" stroke="#1f3643" stroke-width="1.9" />
<circle cx="1153.4" cy="1150.5" r="15.1" fill="none" stroke="#1f3643" stroke-width="1.7"/>
<line x1="1133.2" y1="1143" x2="1140" y2="1143" stroke="#1f3643" stroke-width="1.7" />
<line x1="1166.6" y1="1143" x2="1173.4" y2="1143" stroke="#1f3643" stroke-width="1.7" />
<line x1="1143.5" y1="1155.3" x2="1163.5" y2="1155.3" stroke="#1f3643" stroke-width="1.7" />
<line x1="1153.4" y1="1155.3" x2="1153.4" y2="1170.7" stroke="#1f3643" stroke-width="1.7" />
<line x1="1140" y1="1143" x2="1143.1" y2="1148.2" stroke="#1f3643" stroke-width="1.7" />
<path d="M1147,1154.4 L1140.6,1149.8 L1145.6,1146.6 Z" fill="#1f3643"/>
<line x1="1166.6" y1="1143" x2="1160.2" y2="1155.3" stroke="#1f3643" stroke-width="1.7" />
<text x="1070.75" y="1110.3" font-size="21" text-anchor="middle" font-weight="bold" fill="#262626" >5</text>
<rect x="1274.3" y="1095.3" width="106.7" height="117.6" fill="#efb25a" stroke="none" stroke-width="0" />
<rect x="1270.8" y="1091.8" width="106.7" height="117.6" fill="#fde3c8" stroke="#4a3a2c" stroke-width="1.5" />
<text x="1255.6" y="1111.3" font-size="21" text-anchor="middle" font-weight="bold" fill="#262626" >6</text>
<rect x="1317.7" y="1072.2" width="10.8" height="19.7" fill="#f5ec0a" stroke="#2e2b14" stroke-width="1.4" />
<path d="M1317.7,1084.41 L1323.1,1079.69 L1328.5,1084.41" stroke="#3a3520" stroke-width="1.4" fill="none" />
<text x="1310.2" y="1067.2" font-size="13.4" text-anchor="middle" font-weight="normal" fill="#2a2a2a" >6</text>
<text x="1334.3" y="1067.2" font-size="16.5" text-anchor="start" font-weight="normal" fill="#2a2a2a" >C438</text>
<line x1="1323.1" y1="1091.8" x2="1323.1" y2="1117.7" stroke="#2e2a26" stroke-width="2.4" />
<line x1="1323.1" y1="1117.7" x2="1323.1" y2="1143.8" stroke="#222" stroke-width="3.8" />
<circle cx="1323.1" cy="1117.7" r="4" fill="#ffffff" stroke="#2e2a26" stroke-width="1.5"/>
<path d="M1296.7,1143.8 V1182.7 H1349.6 V1143.8" stroke="#2e2a26" stroke-width="2.4" fill="none" stroke-linejoin="miter"/>
<line x1="1323.1" y1="1182.7" x2="1323.1" y2="1210" stroke="#2e2a26" stroke-width="2.4" />
<circle cx="1323.1" cy="1182.7" r="4.4" fill="#2e2a26" stroke="none" stroke-width="0"/>
<circle cx="1296.7" cy="1143.8" r="4" fill="#ffffff" stroke="#2e2a26" stroke-width="1.5"/>
<circle cx="1323.1" cy="1143.8" r="4" fill="#ffffff" stroke="#2e2a26" stroke-width="1.5"/>
<circle cx="1349.6" cy="1143.8" r="4" fill="#ffffff" stroke="#2e2a26" stroke-width="1.5"/>
<text x="1284.8" y="1164.4" font-size="16.5" text-anchor="middle" font-weight="normal" fill="#2a2a2a" >P</text>
<text x="1323.1" y="1164.4" font-size="16.5" text-anchor="middle" font-weight="normal" fill="#2a2a2a" >R</text>
<text x="1362" y="1164.4" font-size="16.5" text-anchor="middle" font-weight="normal" fill="#2a2a2a" >N</text>
<rect x="1317.7" y="1209.5" width="10.8" height="19.7" fill="#f5ec0a" stroke="#2e2b14" stroke-width="1.4" />
<path d="M1317.7,1216.59 L1323.1,1221.32 L1328.5,1216.59" stroke="#3a3520" stroke-width="1.4" fill="none" />
<text x="1310" y="1244.3" font-size="13.4" text-anchor="middle" font-weight="normal" fill="#2a2a2a" >9</text>
<text x="1334.3" y="1244.2" font-size="16.5" text-anchor="start" font-weight="normal" fill="#2a2a2a" >C438</text>
<line x1="1159" y1="1504.3" x2="1370" y2="1504.3" stroke="#5a5a5a" stroke-width="1.6" stroke-dasharray="13,5.5"/>
<rect x="1147.7" y="1504.2" width="10.8" height="19.7" fill="#f5ec0a" stroke="#2e2b14" stroke-width="1.4" />
<path d="M1147.7,1516.41 L1153.1,1511.69 L1158.5,1516.41" stroke="#3a3520" stroke-width="1.4" fill="none" />
<rect x="1370.2" y="1504.2" width="10.8" height="19.7" fill="#f5ec0a" stroke="#2e2b14" stroke-width="1.4" />
<path d="M1370.2,1516.41 L1375.6,1511.69 L1381,1516.41" stroke="#3a3520" stroke-width="1.4" fill="none" />
<text x="1165.8" y="1499.7" font-size="13.4" text-anchor="middle" font-weight="normal" fill="#2a2a2a" >1</text>
<text x="1362.4" y="1499.7" font-size="13.4" text-anchor="middle" font-weight="normal" fill="#2a2a2a" >2</text>
<text x="1386.7" y="1499.3" font-size="16.5" text-anchor="start" font-weight="normal" fill="#2a2a2a" >C110</text>
<rect x="1116.9" y="1527.2" width="314.5" height="169.9" fill="#efb25a" stroke="none" stroke-width="0" />
<rect x="1113.4" y="1523.7" width="314.5" height="169.9" fill="#fde3c8" stroke="#4a3a2c" stroke-width="1.5" />
<text x="1096.45" y="1538.7" font-size="21" text-anchor="middle" font-weight="bold" fill="#262626" >7</text>
<line x1="1153.1" y1="1523.7" x2="1153.1" y2="1577.2" stroke="#2e2a26" stroke-width="2.4" />
<line x1="1153.1" y1="1577.2" x2="1139.8" y2="1600.6" stroke="#222" stroke-width="3.4" />
<circle cx="1153.1" cy="1577.2" r="4.2" fill="#ffffff" stroke="#2e2a26" stroke-width="1.5"/>
<circle cx="1139.8" cy="1600.6" r="4.2" fill="#ffffff" stroke="#2e2a26" stroke-width="1.5"/>
<line x1="1148" y1="1588.9" x2="1220.4" y2="1588.9" stroke="#3a3025" stroke-width="1.6" stroke-dasharray="13,4.5"/>
<path d="M1165.9,1600.6 V1628.4 H1281" stroke="#2e2a26" stroke-width="2.4" fill="none" stroke-linejoin="miter"/>
<circle cx="1165.9" cy="1600.6" r="4.2" fill="#ffffff" stroke="#2e2a26" stroke-width="1.5"/>
<path d="M1243.9,1628.4 V1549.7 H1375.6" stroke="#2e2a26" stroke-width="2.4" fill="none" stroke-linejoin="miter"/>
<line x1="1375.6" y1="1523.7" x2="1375.6" y2="1693.6" stroke="#2e2a26" stroke-width="2.4" />
<line x1="1338" y1="1628.4" x2="1375.6" y2="1628.4" stroke="#2e2a26" stroke-width="2.4" />
<rect x="1220.4" y="1576.5" width="48.5" height="25.1" fill="#ffffff" stroke="#2a2420" stroke-width="2.7" />
<line x1="1248.53" y1="1577" x2="1240.77" y2="1601.1" stroke="#2a2420" stroke-width="1.3" />
<rect x="1350.9" y="1576.5" width="48.5" height="25.1" fill="#ffffff" stroke="#2a2420" stroke-width="2.7" />
<line x1="1379.03" y1="1577" x2="1371.27" y2="1601.1" stroke="#2a2420" stroke-width="1.3" />
<rect x="1281.3" y="1620.7" width="8" height="15" fill="#222" stroke="none" stroke-width="0" />
<rect x="1330.6" y="1620.7" width="8" height="15" fill="#222" stroke="none" stroke-width="0" />
<circle cx="1309.8" cy="1628.4" r="20.6" fill="#ffffff" stroke="#2a2420" stroke-width="2.4"/>
<text x="1309.8" y="1635.2" font-size="16.5" text-anchor="middle" font-weight="normal" fill="#2a2a2a" >M</text>
<path d="M1290.4,1654.4 H1297.5 V1660 H1323.2 V1654.4 H1330 V1667.4 H1290.4 Z" fill="#2a2826"/>
<circle cx="1243.9" cy="1628.4" r="4.3" fill="#2e2a26" stroke="none" stroke-width="0"/>
<circle cx="1375.6" cy="1549.7" r="4.3" fill="#2e2a26" stroke="none" stroke-width="0"/>
<circle cx="1375.6" cy="1628.4" r="4.3" fill="#2e2a26" stroke="none" stroke-width="0"/>
<line x1="1375.6" y1="1693.6" x2="1375.6" y2="1699" stroke="#2e2a26" stroke-width="2.4" />
<circle cx="1375.6" cy="1699.3" r="5.6" fill="#ffffff" stroke="#2e2a26" stroke-width="1.7"/>
<line x1="1375.6" y1="1705" x2="1375.6" y2="1728.4" stroke="#2e2a26" stroke-width="2.5" />
<rect x="1365.4" y="1726.5" width="20.4" height="3.8" fill="#2e2a26" stroke="none" stroke-width="0" />
<rect x="990.9" y="1595.6" width="10.8" height="19.7" fill="#f5ec0a" stroke="#2e2b14" stroke-width="1.4" />
<path d="M990.9,1607.81 L996.3,1603.09 L1001.7,1607.81" stroke="#3a3520" stroke-width="1.4" fill="none" />
<text x="982.6" y="1592.3" font-size="13.4" text-anchor="middle" font-weight="normal" fill="#2a2a2a" >1</text>
<text x="1006.3" y="1592.2" font-size="16.5" text-anchor="start" font-weight="normal" fill="#2a2a2a" >C871</text>
<rect x="943.4" y="1615" width="105.4" height="78.6" fill="#7bb3d0" stroke="#3a5462" stroke-width="1.5" />
<rect x="976.9" y="1634.7" width="39.5" height="39.5" fill="#c8e0ec" stroke="#1f3643" stroke-width="1.9" />
<circle cx="996.75" cy="1654.35" r="14.84" fill="none" stroke="#1f3643" stroke-width="1.7"/>
<line x1="976.9" y1="1646.98" x2="983.58" y2="1646.98" stroke="#1f3643" stroke-width="1.7" />
<line x1="1009.72" y1="1646.98" x2="1016.4" y2="1646.98" stroke="#1f3643" stroke-width="1.7" />
<line x1="987.02" y1="1659.07" x2="1006.67" y2="1659.07" stroke="#1f3643" stroke-width="1.7" />
<line x1="996.75" y1="1659.07" x2="996.75" y2="1674.2" stroke="#1f3643" stroke-width="1.7" />
<line x1="983.58" y1="1646.98" x2="986.63" y2="1652.09" stroke="#1f3643" stroke-width="1.7" />
<path d="M990.46,1658.18 L984.17,1653.66 L989.08,1650.52 Z" fill="#1f3643"/>
<line x1="1009.72" y1="1646.98" x2="1003.43" y2="1659.07" stroke="#1f3643" stroke-width="1.7" />
<text x="928.35" y="1630.7" font-size="21" text-anchor="middle" font-weight="bold" fill="#262626" >8</text>
<text x="123" y="1884.3" font-size="22" fill="#1b7aa2" textLength="67.2" lengthAdjust="spacingAndGlyphs"><tspan font-weight="bold">Схема</tspan></text>
<text x="199.2" y="1884.3" font-size="22" fill="#1b7aa2" textLength="130.21" lengthAdjust="spacingAndGlyphs"><tspan font-weight="bold">соединений</tspan></text>
<text x="338.42" y="1884.3" font-size="22" fill="#1b7aa2" textLength="128.49" lengthAdjust="spacingAndGlyphs"><tspan font-weight="bold">генератора:</tspan></text>
<text x="475.91" y="1884.3" font-size="22" fill="#1b7aa2" textLength="12.14" lengthAdjust="spacingAndGlyphs"><tspan font-weight="bold">1</tspan></text>
<text x="497.05" y="1884.3" font-size="22" fill="#1b7aa2" textLength="21.82" lengthAdjust="spacingAndGlyphs">—</text>
<text x="527.88" y="1884.3" font-size="22" fill="#1b7aa2" textLength="162.42" lengthAdjust="spacingAndGlyphs">аккумуляторная</text>
<text x="699.29" y="1884.3" font-size="22" fill="#1b7aa2" textLength="87.71" lengthAdjust="spacingAndGlyphs">батарея;</text>
<text x="123" y="1912.1" font-size="22" fill="#1b7aa2" textLength="12.14" lengthAdjust="spacingAndGlyphs"><tspan font-weight="bold">2</tspan></text>
<text x="142.04" y="1912.1" font-size="22" fill="#1b7aa2" textLength="21.82" lengthAdjust="spacingAndGlyphs">—</text>
<text x="170.77" y="1912.1" font-size="22" fill="#1b7aa2" textLength="115.61" lengthAdjust="spacingAndGlyphs">монтажный</text>
<text x="293.29" y="1912.1" font-size="22" fill="#1b7aa2" textLength="46.19" lengthAdjust="spacingAndGlyphs">блок</text>
<text x="346.39" y="1912.1" font-size="22" fill="#1b7aa2" textLength="11.59" lengthAdjust="spacingAndGlyphs">в</text>
<text x="364.89" y="1912.1" font-size="22" fill="#1b7aa2" textLength="99.88" lengthAdjust="spacingAndGlyphs">моторном</text>
<text x="471.68" y="1912.1" font-size="22" fill="#1b7aa2" textLength="72.45" lengthAdjust="spacingAndGlyphs">отсеке;</text>
<text x="551.04" y="1912.1" font-size="22" fill="#1b7aa2" textLength="12.14" lengthAdjust="spacingAndGlyphs"><tspan font-weight="bold">3</tspan></text>
<text x="570.08" y="1912.1" font-size="22" fill="#1b7aa2" textLength="21.82" lengthAdjust="spacingAndGlyphs">—</text>
<text x="598.81" y="1912.1" font-size="22" fill="#1b7aa2" textLength="48.96" lengthAdjust="spacingAndGlyphs">ЭБУ;</text>
<text x="654.68" y="1912.1" font-size="22" fill="#1b7aa2" textLength="12.14" lengthAdjust="spacingAndGlyphs"><tspan font-weight="bold">4</tspan></text>
<text x="673.72" y="1912.1" font-size="22" fill="#1b7aa2" textLength="21.82" lengthAdjust="spacingAndGlyphs">—</text>
<text x="702.45" y="1912.1" font-size="22" fill="#1b7aa2" textLength="84.55" lengthAdjust="spacingAndGlyphs">стартер;</text>
<text x="123" y="1939.5" font-size="22" fill="#1b7aa2" textLength="12.14" lengthAdjust="spacingAndGlyphs"><tspan font-weight="bold">5</tspan></text>
<text x="141.2" y="1939.5" font-size="22" fill="#1b7aa2" textLength="21.82" lengthAdjust="spacingAndGlyphs">—</text>
<text x="169.09" y="1939.5" font-size="22" fill="#1b7aa2" textLength="107.7" lengthAdjust="spacingAndGlyphs">генератор;</text>
<text x="282.85" y="1939.5" font-size="22" fill="#1b7aa2" textLength="12.14" lengthAdjust="spacingAndGlyphs"><tspan font-weight="bold">6</tspan></text>
<text x="301.05" y="1939.5" font-size="22" fill="#1b7aa2" textLength="21.82" lengthAdjust="spacingAndGlyphs">—</text>
<text x="328.94" y="1939.5" font-size="22" fill="#1b7aa2" textLength="101.25" lengthAdjust="spacingAndGlyphs">регулятор</text>
<text x="436.25" y="1939.5" font-size="22" fill="#1b7aa2" textLength="122.52" lengthAdjust="spacingAndGlyphs">напряжения</text>
<line x1="122" y1="1957" x2="787" y2="1957" stroke="#1a7fa8" stroke-width="2.2" />
<text x="828" y="1829.3" font-size="22" fill="#1b7aa2" textLength="67.2" lengthAdjust="spacingAndGlyphs"><tspan font-weight="bold">Схема</tspan></text>
<text x="902.59" y="1829.3" font-size="22" fill="#1b7aa2" textLength="59.98" lengthAdjust="spacingAndGlyphs"><tspan font-weight="bold">пуска</tspan></text>
<text x="969.96" y="1829.3" font-size="22" fill="#1b7aa2" textLength="118.61" lengthAdjust="spacingAndGlyphs"><tspan font-weight="bold">двигателя:</tspan></text>
<text x="1095.96" y="1829.3" font-size="22" fill="#1b7aa2" textLength="6.06" lengthAdjust="spacingAndGlyphs">I</text>
<text x="1109.42" y="1829.3" font-size="22" fill="#1b7aa2" textLength="21.82" lengthAdjust="spacingAndGlyphs">—</text>
<text x="1138.64" y="1829.3" font-size="22" fill="#1b7aa2" textLength="10.91" lengthAdjust="spacingAndGlyphs">с</text>
<text x="1156.94" y="1829.3" font-size="22" fill="#1b7aa2" textLength="162.53" lengthAdjust="spacingAndGlyphs">автоматической</text>
<text x="1326.87" y="1829.3" font-size="22" fill="#1b7aa2" textLength="34.46" lengthAdjust="spacingAndGlyphs">КП;</text>
<text x="1368.72" y="1829.3" font-size="22" fill="#1b7aa2" textLength="12.13" lengthAdjust="spacingAndGlyphs">II</text>
<text x="1388.24" y="1829.3" font-size="22" fill="#1b7aa2" textLength="21.82" lengthAdjust="spacingAndGlyphs">—</text>
<text x="1417.46" y="1829.3" font-size="22" fill="#1b7aa2" textLength="10.91" lengthAdjust="spacingAndGlyphs">с</text>
<text x="1435.76" y="1829.3" font-size="22" fill="#1b7aa2" textLength="56.74" lengthAdjust="spacingAndGlyphs">меха-</text>
<text x="828" y="1856.6" font-size="22" fill="#1b7aa2" textLength="92.79" lengthAdjust="spacingAndGlyphs">нической</text>
<text x="931.44" y="1856.6" font-size="22" fill="#1b7aa2" textLength="34.46" lengthAdjust="spacingAndGlyphs">КП;</text>
<text x="976.55" y="1856.6" font-size="22" fill="#1b7aa2" textLength="12.14" lengthAdjust="spacingAndGlyphs"><tspan font-weight="bold">1</tspan></text>
<text x="999.34" y="1856.6" font-size="22" fill="#1b7aa2" textLength="21.82" lengthAdjust="spacingAndGlyphs">—</text>
<text x="1031.82" y="1856.6" font-size="22" fill="#1b7aa2" textLength="162.42" lengthAdjust="spacingAndGlyphs">аккумуляторная</text>
<text x="1204.88" y="1856.6" font-size="22" fill="#1b7aa2" textLength="87.71" lengthAdjust="spacingAndGlyphs">батарея;</text>
<text x="1303.24" y="1856.6" font-size="22" fill="#1b7aa2" textLength="12.14" lengthAdjust="spacingAndGlyphs"><tspan font-weight="bold">2</tspan></text>
<text x="1326.03" y="1856.6" font-size="22" fill="#1b7aa2" textLength="21.82" lengthAdjust="spacingAndGlyphs">—</text>
<text x="1358.5" y="1856.6" font-size="22" fill="#1b7aa2" textLength="134" lengthAdjust="spacingAndGlyphs">выключатель</text>
<text x="828" y="1884.1" font-size="22" fill="#1b7aa2" textLength="110.68" lengthAdjust="spacingAndGlyphs">зажигания;</text>
<text x="947.85" y="1884.1" font-size="22" fill="#1b7aa2" textLength="12.14" lengthAdjust="spacingAndGlyphs"><tspan font-weight="bold">3</tspan></text>
<text x="969.17" y="1884.1" font-size="22" fill="#1b7aa2" textLength="21.82" lengthAdjust="spacingAndGlyphs">—</text>
<text x="1000.16" y="1884.1" font-size="22" fill="#1b7aa2" textLength="115.61" lengthAdjust="spacingAndGlyphs">монтажный</text>
<text x="1124.95" y="1884.1" font-size="22" fill="#1b7aa2" textLength="46.19" lengthAdjust="spacingAndGlyphs">блок</text>
<text x="1180.31" y="1884.1" font-size="22" fill="#1b7aa2" textLength="11.59" lengthAdjust="spacingAndGlyphs">в</text>
<text x="1201.08" y="1884.1" font-size="22" fill="#1b7aa2" textLength="99.88" lengthAdjust="spacingAndGlyphs">моторном</text>
<text x="1310.14" y="1884.1" font-size="22" fill="#1b7aa2" textLength="72.45" lengthAdjust="spacingAndGlyphs">отсеке;</text>
<text x="1391.77" y="1884.1" font-size="22" fill="#1b7aa2" textLength="12.14" lengthAdjust="spacingAndGlyphs"><tspan font-weight="bold">4</tspan></text>
<text x="1413.08" y="1884.1" font-size="22" fill="#1b7aa2" textLength="21.82" lengthAdjust="spacingAndGlyphs">—</text>
<text x="1444.08" y="1884.1" font-size="22" fill="#1b7aa2" textLength="48.42" lengthAdjust="spacingAndGlyphs">реле</text>
<text x="828" y="1911.7" font-size="22" fill="#1b7aa2" textLength="96.69" lengthAdjust="spacingAndGlyphs">стартера;</text>
<text x="934.92" y="1911.7" font-size="22" fill="#1b7aa2" textLength="12.14" lengthAdjust="spacingAndGlyphs"><tspan font-weight="bold">5</tspan></text>
<text x="957.3" y="1911.7" font-size="22" fill="#1b7aa2" textLength="21.82" lengthAdjust="spacingAndGlyphs">—</text>
<text x="989.35" y="1911.7" font-size="22" fill="#1b7aa2" textLength="48.96" lengthAdjust="spacingAndGlyphs">ЭБУ;</text>
<text x="1048.55" y="1911.7" font-size="22" fill="#1b7aa2" textLength="12.14" lengthAdjust="spacingAndGlyphs"><tspan font-weight="bold">6</tspan></text>
<text x="1070.92" y="1911.7" font-size="22" fill="#1b7aa2" textLength="21.82" lengthAdjust="spacingAndGlyphs">—</text>
<text x="1102.98" y="1911.7" font-size="22" fill="#1b7aa2" textLength="67.5" lengthAdjust="spacingAndGlyphs">датчик</text>
<text x="1180.71" y="1911.7" font-size="22" fill="#1b7aa2" textLength="111.15" lengthAdjust="spacingAndGlyphs">положения</text>
<text x="1302.09" y="1911.7" font-size="22" fill="#1b7aa2" textLength="70.95" lengthAdjust="spacingAndGlyphs">рычага</text>
<text x="1383.28" y="1911.7" font-size="22" fill="#1b7aa2" textLength="109.22" lengthAdjust="spacingAndGlyphs">селектора;</text>
<text x="828" y="1939.1" font-size="22" fill="#1b7aa2" textLength="12.14" lengthAdjust="spacingAndGlyphs"><tspan font-weight="bold">7</tspan></text>
<text x="846.2" y="1939.1" font-size="22" fill="#1b7aa2" textLength="21.82" lengthAdjust="spacingAndGlyphs">—</text>
<text x="874.09" y="1939.1" font-size="22" fill="#1b7aa2" textLength="84.55" lengthAdjust="spacingAndGlyphs">стартер;</text>
<text x="964.7" y="1939.1" font-size="22" fill="#1b7aa2" textLength="12.14" lengthAdjust="spacingAndGlyphs"><tspan font-weight="bold">8</tspan></text>
<text x="982.91" y="1939.1" font-size="22" fill="#1b7aa2" textLength="21.82" lengthAdjust="spacingAndGlyphs">—</text>
<text x="1010.79" y="1939.1" font-size="22" fill="#1b7aa2" textLength="101.63" lengthAdjust="spacingAndGlyphs">генератор</text>
<line x1="827.5" y1="1956" x2="1492.5" y2="1956" stroke="#1a7fa8" stroke-width="2.2" />
</svg>
</body></html>
